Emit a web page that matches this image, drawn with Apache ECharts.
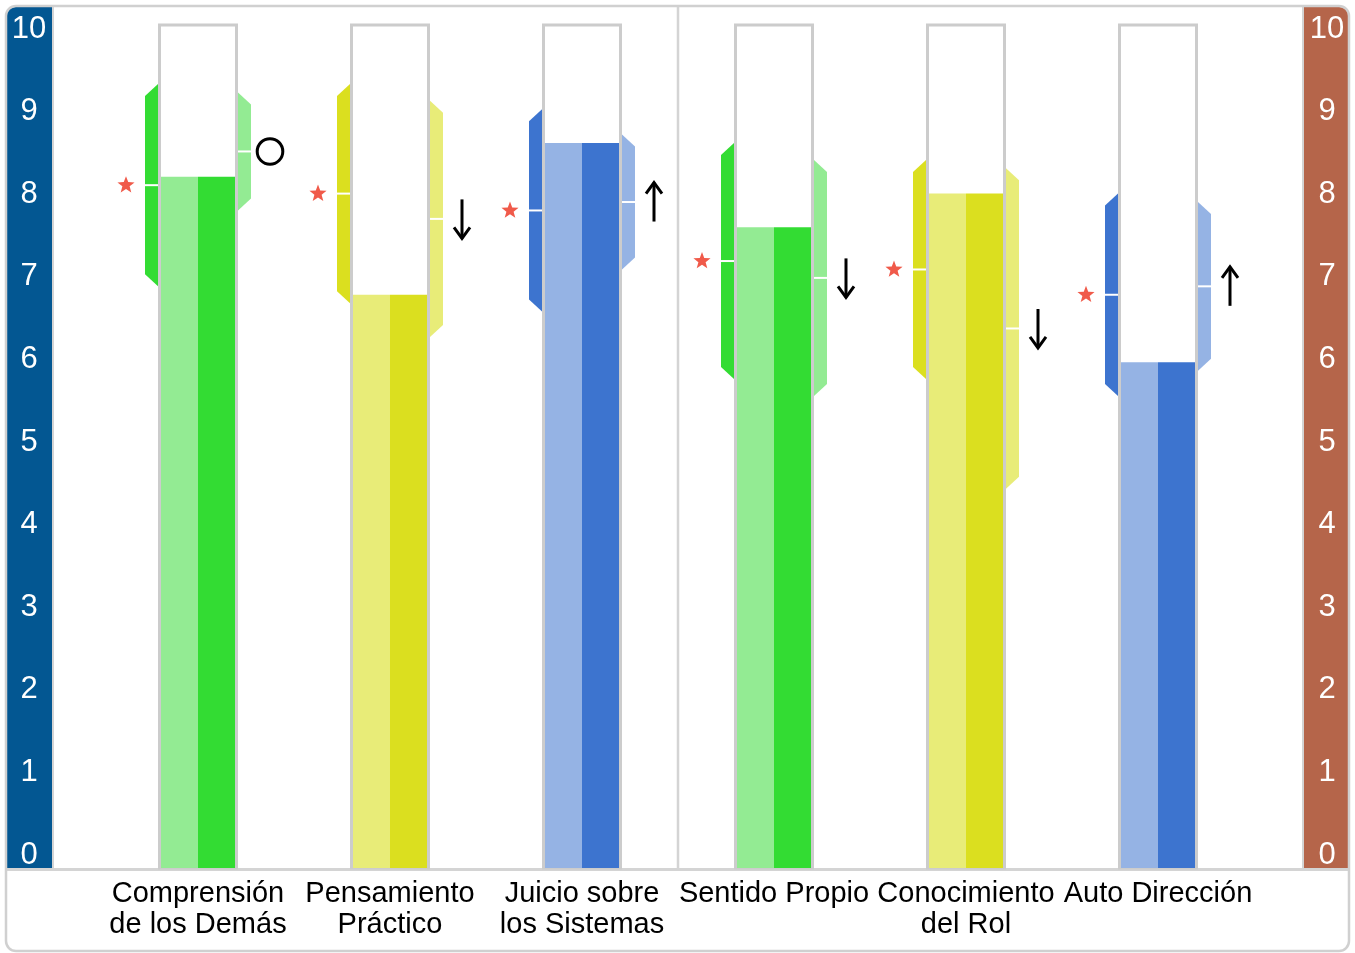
<!DOCTYPE html>
<html>
<head>
<meta charset="utf-8">
<script src="https://cdn.jsdelivr.net/npm/echarts@6/dist/echarts.min.js"></script>
<style>
  html, body { margin: 0; padding: 0; background: #fff; }
  #chart { width: 1355px; height: 953px; }
</style>
</head>
<body>
<div id="chart"></div>
<script>
// Competency names shown under each tube
const categories = [
  'Comprensión\nde los Demás',
  'Pensamiento\nPráctico',
  'Juicio sobre\nlos Sistemas',
  'Sentido Propio',
  'Conocimiento\ndel Rol',
  'Auto Dirección'
];
// Filled height of each tube
const scores = [8.2, 6.8, 8.6, 7.6, 8.0, 6.0];
// Left band: centre (star) and half spread
const selfCenter = [8.1, 8.0, 7.8, 7.2, 7.1, 6.8];
const selfSpread = [1.2, 1.3, 1.2, 1.4, 1.3, 1.2];
// Right band: centre and half spread
const otherCenter = [8.5, 7.7, 7.9, 7.0, 6.4, 6.9];
const otherSpread = [0.7, 1.4, 0.8, 1.4, 1.9, 1.0];
// Trend marker next to the right band
const trends = ['same', 'down', 'up', 'down', 'down', 'up'];
// Colour family for each competency
const families = ['green', 'yellow', 'blue', 'green', 'yellow', 'blue'];
// Scale labels on both side bands
const scaleMin = 0, scaleMax = 10, scaleStep = 1;

const palette = {
  green:  { dark: '#33dc33', light: '#93eb93' },
  yellow: { dark: '#dbdf1f', light: '#e8ec78' },
  blue:   { dark: '#3d74cf', light: '#95b3e4' }
};

const seriesData = categories.map((c, i) => [
  i, scores[i], selfCenter[i], selfSpread[i], otherCenter[i], otherSpread[i]
]);

function starPoints(x, y, R, r) {
  const pts = [];
  for (let k = 0; k < 10; k++) {
    const rad = k % 2 === 0 ? R : r;
    const a = -Math.PI / 2 + k * Math.PI / 5;
    pts.push([x + rad * Math.cos(a), y + rad * Math.sin(a)]);
  }
  return pts;
}

function renderItem(params, api) {
  const i = api.value(0);
  const fam = palette[families[i]];
  const base = api.coord([i, scaleMin]);
  const cx = base[0];
  const y0 = base[1];
  const yMax = api.coord([i, scaleMax])[1];
  const yScore = api.coord([i, api.value(1)])[1];

  const lc = api.value(2), lh = api.value(3);
  const rc = api.value(4), rh = api.value(5);
  const lTop = api.coord([i, lc + lh])[1];
  const lBot = api.coord([i, lc - lh])[1];
  const lMid = api.coord([i, lc])[1];
  const rTop = api.coord([i, rc + rh])[1];
  const rBot = api.coord([i, rc - rh])[1];
  const rMid = api.coord([i, rc])[1];

  const bevel = 12;
  const inner = 40, outer = 53;

  const children = [
    // tube
    { type: 'rect', shape: { x: cx - 38.5, y: yMax, width: 77, height: y0 - yMax },
      style: { fill: '#ffffff', stroke: '#cccccc', lineWidth: 3 } },
    // score bars
    { type: 'rect', shape: { x: cx - 37, y: yScore, width: 37, height: y0 - yScore },
      style: { fill: fam.light } },
    { type: 'rect', shape: { x: cx, y: yScore, width: 37, height: y0 - yScore },
      style: { fill: fam.dark } },
    // left band
    { type: 'polygon', shape: { points: [
        [cx - inner, lTop], [cx - inner, lBot], [cx - outer, lBot - bevel], [cx - outer, lTop + bevel]
      ] }, style: { fill: fam.dark } },
    { type: 'line', shape: { x1: cx - outer, y1: lMid, x2: cx - inner, y2: lMid },
      style: { stroke: '#ffffff', lineWidth: 2 } },
    { type: 'polygon', shape: { points: starPoints(cx - 72, lMid, 9, 3.8) },
      style: { fill: '#f05a4a' } },
    // right band
    { type: 'polygon', shape: { points: [
        [cx + inner, rTop], [cx + outer, rTop + bevel], [cx + outer, rBot - bevel], [cx + inner, rBot]
      ] }, style: { fill: fam.light } },
    { type: 'line', shape: { x1: cx + inner, y1: rMid, x2: cx + outer, y2: rMid },
      style: { stroke: '#ffffff', lineWidth: 2 } }
  ];

  const tx = cx + 72;
  const t = trends[i];
  if (t === 'same') {
    children.push({ type: 'circle', shape: { cx: tx, cy: rMid, r: 12.8 },
      style: { fill: 'none', stroke: '#000000', lineWidth: 3 } });
  } else {
    const dir = t === 'up' ? -1 : 1;
    const tip = rMid + dir * 19.5;
    children.push({ type: 'line', shape: { x1: tx, y1: rMid - dir * 19.5, x2: tx, y2: tip },
      style: { stroke: '#000000', lineWidth: 3 } });
    children.push({ type: 'polyline', shape: { points: [
        [tx - 8, tip - dir * 11], [tx, tip], [tx + 8, tip - dir * 11]
      ] }, style: { fill: 'none', stroke: '#000000', lineWidth: 3 } });
  }
  return { type: 'group', children: children };
}

const chart = echarts.init(document.getElementById('chart'), null, { renderer: 'canvas' });

const font = '"Liberation Sans", Arial, sans-serif';
const scaleLabel = {
  color: '#ffffff', fontSize: 31, fontFamily: font, align: 'center', margin: 23
};

chart.setOption({
  animation: false,
  backgroundColor: '#ffffff',
  grid: [
    { left: 102, right: 101, top: 25, bottom: 85 },
    { left: 52, right: 51, top: 29, bottom: 98 }
  ],
  xAxis: [
    { type: 'category', gridIndex: 0, data: categories,
      axisLine: { show: false }, axisTick: { show: false },
      axisLabel: { color: '#000000', fontSize: 29, fontFamily: font, lineHeight: 31, margin: 10, interval: 0 } },
    { type: 'value', gridIndex: 1, show: false }
  ],
  yAxis: [
    { type: 'value', gridIndex: 0, min: scaleMin, max: scaleMax, show: false },
    { type: 'value', gridIndex: 1, position: 'left', min: scaleMin, max: scaleMax, interval: scaleStep,
      axisLine: { show: false }, axisTick: { show: false }, splitLine: { show: false },
      axisLabel: scaleLabel },
    { type: 'value', gridIndex: 1, position: 'right', min: scaleMin, max: scaleMax, interval: scaleStep,
      axisLine: { show: false }, axisTick: { show: false }, splitLine: { show: false },
      axisLabel: scaleLabel }
  ],
  graphic: [
    { type: 'rect', z: -10, shape: { x: 7, y: 7, width: 45, height: 861, r: [8, 0, 0, 0] },
      style: { fill: '#035792' } },
    { type: 'rect', z: -10, shape: { x: 1304, y: 7, width: 44, height: 861, r: [0, 8, 0, 0] },
      style: { fill: '#b5654a' } },
    { type: 'line', z: -5, shape: { x1: 53, y1: 7, x2: 53, y2: 868 },
      style: { stroke: '#d4d4d4', lineWidth: 2 } },
    { type: 'line', z: -5, shape: { x1: 1303, y1: 7, x2: 1303, y2: 868 },
      style: { stroke: '#d4d4d4', lineWidth: 2 } },
    { type: 'line', z: -5, shape: { x1: 678, y1: 7, x2: 678, y2: 868 },
      style: { stroke: '#d4d4d4', lineWidth: 2.5 } },
    { type: 'line', z: -5, shape: { x1: 7, y1: 869.5, x2: 1348, y2: 869.5 },
      style: { stroke: '#d4d4d4', lineWidth: 3 } },
    { type: 'rect', z: 20, shape: { x: 6, y: 6, width: 1343, height: 945, r: 10 },
      style: { fill: 'none', stroke: '#d0d0d0', lineWidth: 2.5 } }
  ],
  series: [
    { type: 'custom', xAxisIndex: 0, yAxisIndex: 0, clip: false,
      renderItem: renderItem, data: seriesData }
  ]
});
</script>
</body>
</html>
